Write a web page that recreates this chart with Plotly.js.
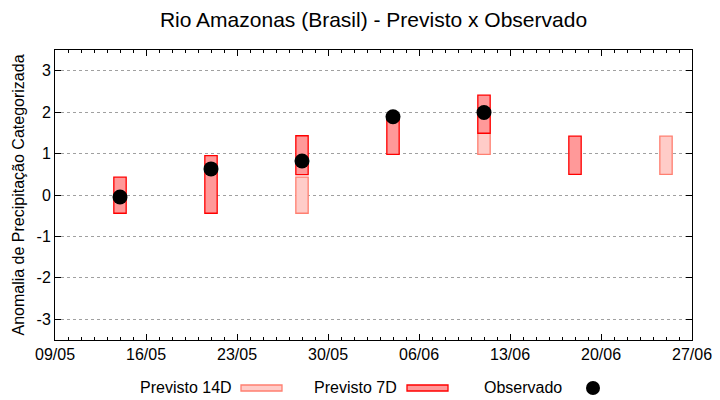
<!DOCTYPE html>
<html>
<head>
<meta charset="utf-8">
<script src="https://cdn.plot.ly/plotly-3.0.1.min.js"></script>
<style>html,body{margin:0;padding:0;background:#fff;}#chart{width:720px;height:400px;}</style>
</head>
<body>
<div id="chart"></div>
<script>
// Data
var dates = ['2023-05-14','2023-05-21','2023-05-28','2023-06-04','2023-06-11','2023-06-18','2023-06-25'];
var prev7Low  = [-0.44, -0.44, 0.49, 0.98, 1.49, 0.50, null];
var prev7High = [ 0.43,  0.95, 1.43, 1.90, 2.41, 1.42, null];
var prev14Low  = [null, null, -0.44, null, 0.98, null, 0.50];
var prev14High = [null, null,  0.43, null, 1.90, null, 1.42];
var observed = [-0.05, 0.63, 0.82, 1.89, 1.99, null, null];
var xTickStart = '2023-05-09';
var xTickEnd = '2023-06-27';
var yTicks = [-3, -2, -1, 0, 1, 2, 3];
var legendLabels = ['Previsto 14D', 'Previsto 7D', 'Observado'];

var DAY = 86400000;
function heights(lo, hi){ return lo.map(function(v,i){ return (v===null||hi[i]===null)?null:hi[i]-v; }); }

var traces = [
  {type:'bar', x:dates, base:prev14Low, y:heights(prev14Low, prev14High), width:0.95*DAY,
   marker:{color:'#ffccc8', line:{color:'#ff7f70', width:1.3}}, name:legendLabels[0], hoverinfo:'skip'},
  {type:'bar', x:dates, base:prev7Low, y:heights(prev7Low, prev7High), width:0.95*DAY,
   marker:{color:'#ff9999', line:{color:'#ff0000', width:1.3}}, name:legendLabels[1], hoverinfo:'skip'},
  {type:'scatter', mode:'markers', x:dates, y:observed,
   marker:{color:'#000', size:15, symbol:'circle'}, name:legendLabels[2]}
];

var plotL = 55, plotR = 692, plotT = 50, plotB = 340;
function px(x){ return (x-plotL)/(plotR-plotL); }
function py(y){ return (plotB-y)/(plotB-plotT); }

var fontFam = 'Liberation Sans, Arial, sans-serif';
var layout = {
  width:720, height:400,
  margin:{l:plotL, r:720-plotR, t:plotT, b:400-plotB},
  paper_bgcolor:'#fff', plot_bgcolor:'#fff',
  barmode:'overlay',
  showlegend:false,
  font:{family:fontFam, size:16, color:'#000'},
  title:{text:'Rio Amazonas (Brasil) - Previsto x Observado', font:{family:fontFam, size:21, color:'#000'},
         x:0.5, xanchor:'center', y:1-20/400, yanchor:'middle', xref:'paper'},
  xaxis:{type:'date', range:[xTickStart, xTickEnd], tick0:xTickStart, dtick:7*DAY, tickformat:'%d/%m',
         showgrid:false, zeroline:false, showline:true, linecolor:'#000', linewidth:1, mirror:'allticks',
         ticks:'inside', ticklen:6, tickcolor:'#000', tickwidth:1,
         tickfont:{family:fontFam, size:16, color:'#000'},
         minor:{dtick:DAY, tick0:xTickStart, ticks:'inside', ticklen:3, tickcolor:'#000', showgrid:false}},
  yaxis:{range:[-3.5, 3.5], tickvals:yTicks, ticktext:yTicks.map(String),
         showgrid:true, gridcolor:'#a0a0a0', griddash:'dot', gridwidth:1,
         zeroline:false, showline:true, linecolor:'#000', linewidth:1, mirror:'allticks',
         ticks:'inside', ticklen:6, tickcolor:'#000', tickwidth:1,
         tickfont:{family:fontFam, size:16, color:'#000'},
         title:{text:'Anomalia de Precipitação Categorizada', font:{family:fontFam, size:16, color:'#000'}, standoff:7}},
  annotations:[
    {xref:'paper', yref:'paper', x:px(234), y:py(387), xanchor:'right', yanchor:'middle', text:legendLabels[0], showarrow:false, font:{family:fontFam, size:16, color:'#000'}},
    {xref:'paper', yref:'paper', x:px(399), y:py(387), xanchor:'right', yanchor:'middle', text:legendLabels[1], showarrow:false, font:{family:fontFam, size:16, color:'#000'}},
    {xref:'paper', yref:'paper', x:px(564), y:py(387), xanchor:'right', yanchor:'middle', text:legendLabels[2], showarrow:false, font:{family:fontFam, size:16, color:'#000'}}
  ],
  shapes:[
    {type:'rect', xref:'paper', yref:'paper', x0:px(241), x1:px(282), y0:py(391), y1:py(385), fillcolor:'#ffccc8', line:{color:'#ff7f70', width:1.3}},
    {type:'rect', xref:'paper', yref:'paper', x0:px(407), x1:px(448), y0:py(391), y1:py(385), fillcolor:'#ff9999', line:{color:'#ff0000', width:1.3}},
    {type:'circle', xref:'paper', yref:'paper', xsizemode:'pixel', ysizemode:'pixel', xanchor:px(593), yanchor:py(388), x0:-7, x1:7, y0:-7, y1:7, fillcolor:'#000', line:{color:'#000', width:0}}
  ]
};

Plotly.newPlot('chart', traces, layout, {staticPlot:true, displayModeBar:false});
</script>
</body>
</html>
